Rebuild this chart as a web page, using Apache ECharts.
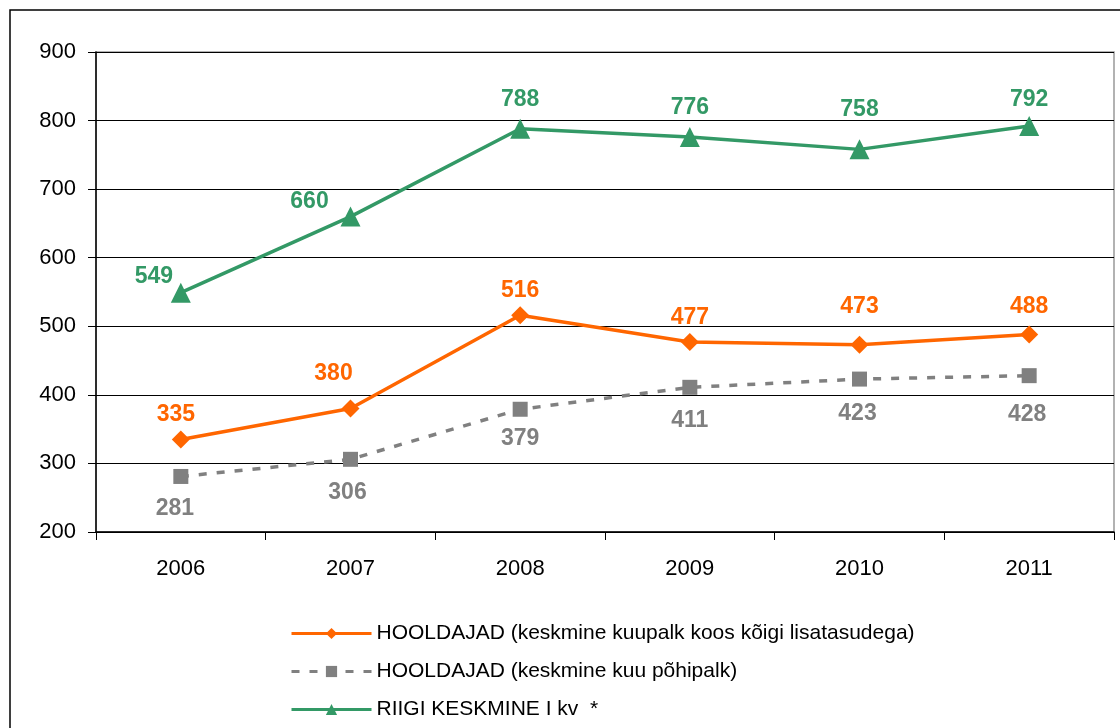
<!DOCTYPE html>
<html>
<head>
<meta charset="utf-8">
<script src="https://cdn.jsdelivr.net/npm/echarts@6/dist/echarts.min.js"></script>
<style>
  html, body { margin: 0; padding: 0; background: #fff; }
  #chart { width: 1120px; height: 728px; }
</style>
</head>
<body>
<div id="chart"></div>
<script>
const years = ['2006', '2007', '2008', '2009', '2010', '2011'];
const hooldajadKoos = [335, 380, 516, 477, 473, 488];
const hooldajadPohi = [281, 306, 379, 411, 423, 428];
const riigiKeskmine = [549, 660, 788, 776, 758, 792];

const seriesNames = [
  'HOOLDAJAD (keskmine kuupalk koos kõigi lisatasudega)',
  'HOOLDAJAD (keskmine kuu põhipalk)',
  'RIIGI KESKMINE I kv  *'
];

const ORANGE = '#ff6600';
const GREY = '#808080';
const GREEN = '#339966';

// label placement relative to each point, the way Excel placed them
const orangeOffsets = [[-5, -25], [-17, -35], [0, -25], [0, -24], [0, -38], [0, -28]];
const greyOffsets = [[-6, 32], [-3, 33], [0, 29], [0, 33], [-2, 35], [-2, 39]];
const greenOffsets = [[-27, -16], [-41, -15], [0, -29], [0, -29], [0, -40], [0, -26]];

const withOffsets = (values, offsets) =>
  values.map((v, i) => ({ value: v, label: { offset: offsets[i] } }));

const chart = echarts.init(document.getElementById('chart'));

const FONT = 'Liberation Sans, Arial, sans-serif';
const labelFont = {
  show: true,
  position: 'inside',
  fontFamily: FONT,
  fontSize: 23,
  fontWeight: 'bold'
};

const option = {
  animation: false,
  textStyle: { fontFamily: FONT },
  graphic: [{
    type: 'rect',
    shape: { x: 10, y: 10, width: 1140, height: 760 },
    style: { fill: 'none', stroke: '#000', lineWidth: 1.5 },
    silent: true
  }],
  grid: {
    left: 96, right: 6, top: 52, bottom: 196,
    show: true, borderColor: '#999', borderWidth: 1.5
  },
  legend: {
    orient: 'vertical',
    left: 285,
    top: 618,
    itemWidth: 80,
    itemHeight: 14,
    itemGap: 17,
    lineStyle: { width: 3 },
    textStyle: { fontSize: 21, color: '#000', lineHeight: 21 },
    data: seriesNames
  },
  xAxis: {
    type: 'category',
    data: years,
    boundaryGap: true,
    axisLine: { lineStyle: { color: '#000', width: 1.5 } },
    axisTick: { show: true, length: 8, lineStyle: { color: '#000' } },
    axisLabel: { fontSize: 22, color: '#000', margin: 26 }
  },
  yAxis: {
    type: 'value',
    min: 200, max: 900, interval: 100,
    axisLine: { show: true, lineStyle: { color: '#000', width: 1.5 } },
    axisTick: { show: true, length: 8, lineStyle: { color: '#000' } },
    axisLabel: { fontSize: 22, color: '#000', margin: 20 },
    splitLine: { lineStyle: { color: '#000', width: 1 } }
  },
  series: [
    {
      name: seriesNames[0],
      type: 'line',
      data: withOffsets(hooldajadKoos, orangeOffsets),
      symbol: 'diamond',
      symbolSize: 18,
      itemStyle: { color: ORANGE },
      lineStyle: { color: ORANGE, width: 3.5 },
      label: Object.assign({}, labelFont, { color: ORANGE }),
      z: 3
    },
    {
      name: seriesNames[1],
      type: 'line',
      data: withOffsets(hooldajadPohi, greyOffsets),
      symbol: 'rect',
      symbolSize: 15,
      itemStyle: { color: GREY },
      lineStyle: { color: GREY, width: 3.5, type: [8, 10] },
      label: Object.assign({}, labelFont, { color: GREY }),
      z: 2
    },
    {
      name: seriesNames[2],
      type: 'line',
      data: withOffsets(riigiKeskmine, greenOffsets),
      symbol: 'triangle',
      symbolSize: 20,
      itemStyle: { color: GREEN },
      lineStyle: { color: GREEN, width: 3.5 },
      label: Object.assign({}, labelFont, { color: GREEN }),
      z: 4
    }
  ]
};

chart.setOption(option);
</script>
</body>
</html>
